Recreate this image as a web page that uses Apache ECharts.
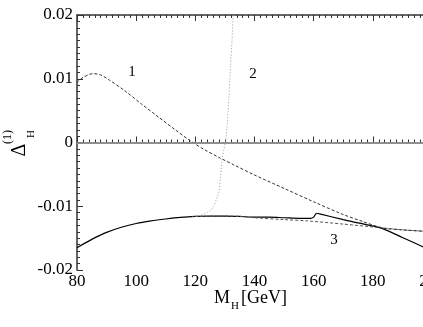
<!DOCTYPE html>
<html>
<head>
<meta charset="utf-8">
<script src="https://cdn.jsdelivr.net/npm/echarts@6/dist/echarts.min.js"></script>
<style>
  html, body { margin: 0; padding: 0; background: #fff; }
  #main { width: 423px; height: 327px; }
</style>
</head>
<body>
<div id="main"></div>
<script>
// curve 1 (dashed, upper)
const curve1 = [
  [80, 0.0094], [82, 0.0102], [85.5, 0.0108], [88, 0.0106], [90.6, 0.0099],
  [96.2, 0.0081], [101.9, 0.0060], [107.5, 0.0040], [113.2, 0.0020], [118.5, 0.0002],
  [123, -0.0011], [127.8, -0.0023], [133, -0.0035], [140, -0.0051], [150, -0.0072],
  [160, -0.0093], [170, -0.0113], [176, -0.0123], [183.3, -0.0134], [190, -0.0137], [200, -0.0140]
];
// curve 2 (dotted)
const curve2 = [
  [119, -0.0116], [121, -0.0115], [122.5, -0.0113], [124, -0.0110], [125.2, -0.0106],
  [126.2, -0.0100], [127.1, -0.0089], [127.9, -0.0078], [128.5, -0.0055], [129.0, -0.0029],
  [129.6, -0.0012], [130.3, 0.0003], [131.3, 0.0067], [131.9, 0.012], [132.4, 0.016], [132.8, 0.020]
];
// curve 3 (solid)
const curve3 = [
  [80, -0.0165], [85, -0.0152], [90, -0.0141], [95, -0.0133], [100, -0.0127],
  [105, -0.0123], [110, -0.0120], [115, -0.01175], [120, -0.0116], [125, -0.01155],
  [130, -0.01155], [135, -0.0116], [140, -0.0117], [145, -0.0117], [150, -0.0118],
  [155, -0.0119], [159, -0.0119], [160, -0.0117], [161, -0.0111], [162, -0.0112],
  [170, -0.0121], [175, -0.0126], [183.3, -0.0135], [190, -0.0149], [200, -0.0170]
];
// lower dashed curve, close to curve 3
const curve3b = [
  [120, -0.0116], [130, -0.01155], [135, -0.0116], [140, -0.0118], [150, -0.0121],
  [158, -0.0123], [170, -0.0128], [183.3, -0.0134], [190, -0.0137], [200, -0.0140]
];
const xTicks = [80, 200, 20];
const yTicks = [-0.02, 0.02, 0.01];

const serif = '"Liberation Serif", "DejaVu Serif", serif';
const chart = echarts.init(document.getElementById('main'));

const axisCommon = {
  axisLine: { show: true, lineStyle: { color: '#333', width: 1.5 } },
  axisTick: { show: true, inside: true, length: 6, lineStyle: { color: '#333' } },
  minorTick: { show: true, splitNumber: 10, length: 3, lineStyle: { color: '#333' } },
  splitLine: { show: false }
};

chart.setOption({
  animation: false,
  grid: { left: 77, top: 15, bottom: 57, right: -9, outerBoundsMode: 'none', containLabel: false },
  xAxis: [
    Object.assign({
      type: 'value', min: xTicks[0], max: xTicks[1], interval: xTicks[2],
      axisLabel: { fontFamily: serif, fontSize: 17, color: '#000', margin: 3 }
    }, axisCommon, { axisLine: { show: true, lineStyle: { color: '#777', width: 2 } } }),
    Object.assign({
      type: 'value', position: 'top', min: xTicks[0], max: xTicks[1], interval: xTicks[2],
      axisLabel: { show: false }
    }, axisCommon)
  ],
  yAxis: Object.assign({
    type: 'value', min: yTicks[0], max: yTicks[1], interval: yTicks[2],
    axisLabel: { fontFamily: serif, fontSize: 17, color: '#000', margin: 4,
      formatter: v => (Math.abs(v) < 1e-9 ? '0' : String(+v.toFixed(2))) }
  }, axisCommon),
  series: [
    {
      type: 'line', data: curve3, showSymbol: false, smooth: 0.3,
      lineStyle: { color: '#000', width: 1.2 }, z: 3,
      markLine: {
        silent: true, symbol: 'none', label: { show: false },
        lineStyle: { color: '#999', width: 1.5, type: 'solid' },
        data: [{ yAxis: 0 }]
      }
    },
    {
      type: 'line', data: curve3b, showSymbol: false, smooth: 0.3,
      lineStyle: { color: '#555', width: 1, type: [3, 2] }
    },
    {
      type: 'line', data: curve1, showSymbol: false, smooth: 0.3,
      lineStyle: { color: '#333', width: 1, type: [3, 2] }
    },
    {
      type: 'line', data: curve2, showSymbol: false, smooth: 0.3,
      lineStyle: { color: '#999', width: 1, type: [1, 2] }
    }
  ],
  graphic: [
    { type: 'text', x: 20, y: 150, rotation: Math.PI / 2,
      style: { text: 'Δ', font: '20px ' + serif, fill: '#000', align: 'center', verticalAlign: 'middle' } },
    { type: 'text', x: 31, y: 134, rotation: Math.PI / 2,
      style: { text: 'H', font: '11px ' + serif, fill: '#000', align: 'center', verticalAlign: 'middle' } },
    { type: 'text', x: 8, y: 137, rotation: Math.PI / 2,
      style: { text: '(1)', font: '12px ' + serif, fill: '#000', align: 'center', verticalAlign: 'middle' } },
    { type: 'text', x: 214, y: 289,
      style: { text: 'M', font: '18px ' + serif, fill: '#000' } },
    { type: 'text', x: 231, y: 301,
      style: { text: 'H', font: '11px ' + serif, fill: '#000' } },
    { type: 'text', x: 241, y: 289,
      style: { text: '[GeV]', font: '18px ' + serif, fill: '#000' } },
    { type: 'text', x: 132, y: 72,
      style: { text: '1', font: '15px ' + serif, fill: '#000', align: 'center', verticalAlign: 'middle' } },
    { type: 'text', x: 253, y: 74,
      style: { text: '2', font: '15px ' + serif, fill: '#000', align: 'center', verticalAlign: 'middle' } },
    { type: 'text', x: 334, y: 240,
      style: { text: '3', font: '15px ' + serif, fill: '#000', align: 'center', verticalAlign: 'middle' } }
  ]
});
</script>
</body>
</html>
